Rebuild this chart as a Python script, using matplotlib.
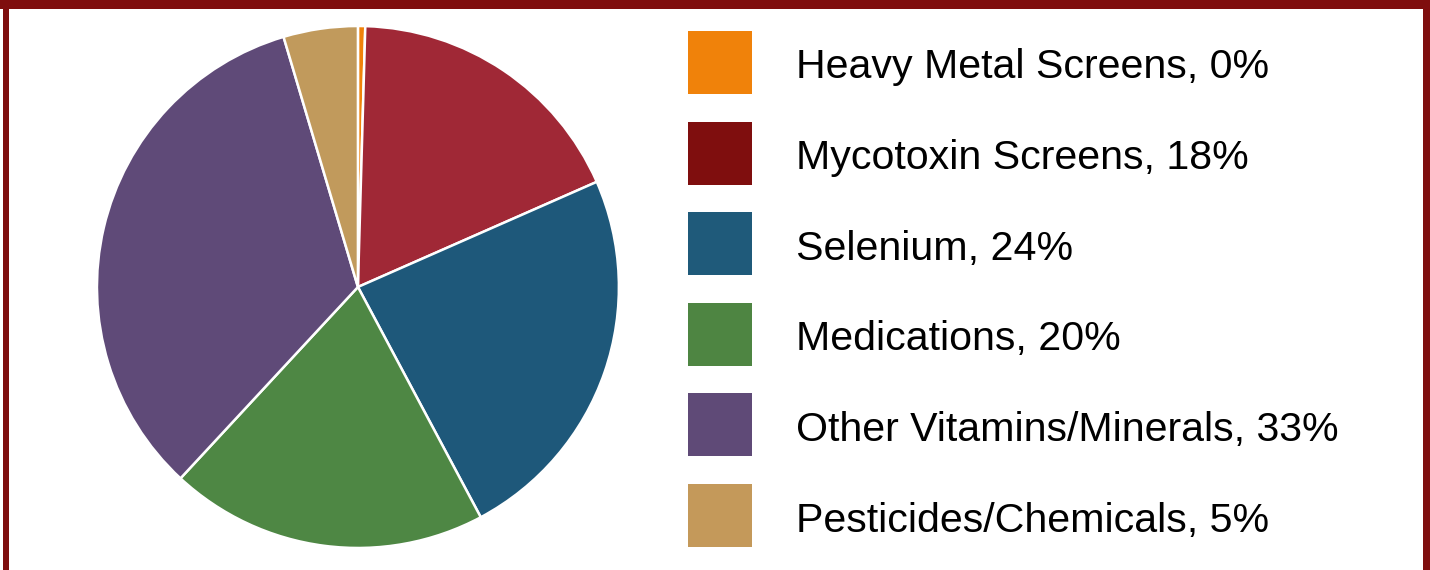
import matplotlib.pyplot as plt
from matplotlib.patches import Rectangle

categories = ['Heavy Metal Screens', 'Mycotoxin Screens', 'Selenium',
              'Medications', 'Other Vitamins/Minerals', 'Pesticides/Chemicals']
shares = [0.45, 17.95, 23.8, 19.7, 33.5, 4.6]
labels_pct = ['0%', '18%', '24%', '20%', '33%', '5%']
pie_colors = ['#f0820a', '#a02836', '#1e587a', '#4e8744', '#5f4a78', '#c19a5c']
legend_colors = ['#f0820a', '#7f0e0e', '#1f5a7a', '#4e8542', '#5f4a77', '#c4995a']

plt.rcParams['font.family'] = ['Liberation Sans', 'DejaVu Sans']

fig = plt.figure(figsize=(14.3, 5.7), dpi=100)

# overlay in pixel coords for frame and legend
ov = fig.add_axes([0, 0, 1, 1])
ov.set_xlim(0, 1430)
ov.set_ylim(570, 0)
ov.axis('off')

border = '#7f0e0e'
ov.add_patch(Rectangle((0, 0), 1430, 9, color=border, lw=0))
ov.add_patch(Rectangle((3, 0), 5.5, 570, color=border, lw=0))
ov.add_patch(Rectangle((1423, 0), 7, 570, color=border, lw=0))

# pie
ax = fig.add_axes([0.0678, 0.0386, 0.365, 0.9158])
ax.pie(shares, colors=pie_colors, startangle=90, counterclock=False,
       wedgeprops=dict(edgecolor='white', linewidth=1.8))
ax.set_xlim(-1, 1)
ax.set_ylim(-1, 1)
ax.set_aspect('equal')

# legend
for i, (cat, pct, col) in enumerate(zip(categories, labels_pct, legend_colors)):
    yc = 62.5 + i * 90.6
    ov.add_patch(Rectangle((688, yc - 31.5), 64, 63, facecolor=col, edgecolor='none'))
    ov.text(796, 78 + i * 90.8, f'{cat}, {pct}', fontsize=29.6, va='baseline',
            ha='left', color='black')

fig.savefig('out.png', dpi=100)
